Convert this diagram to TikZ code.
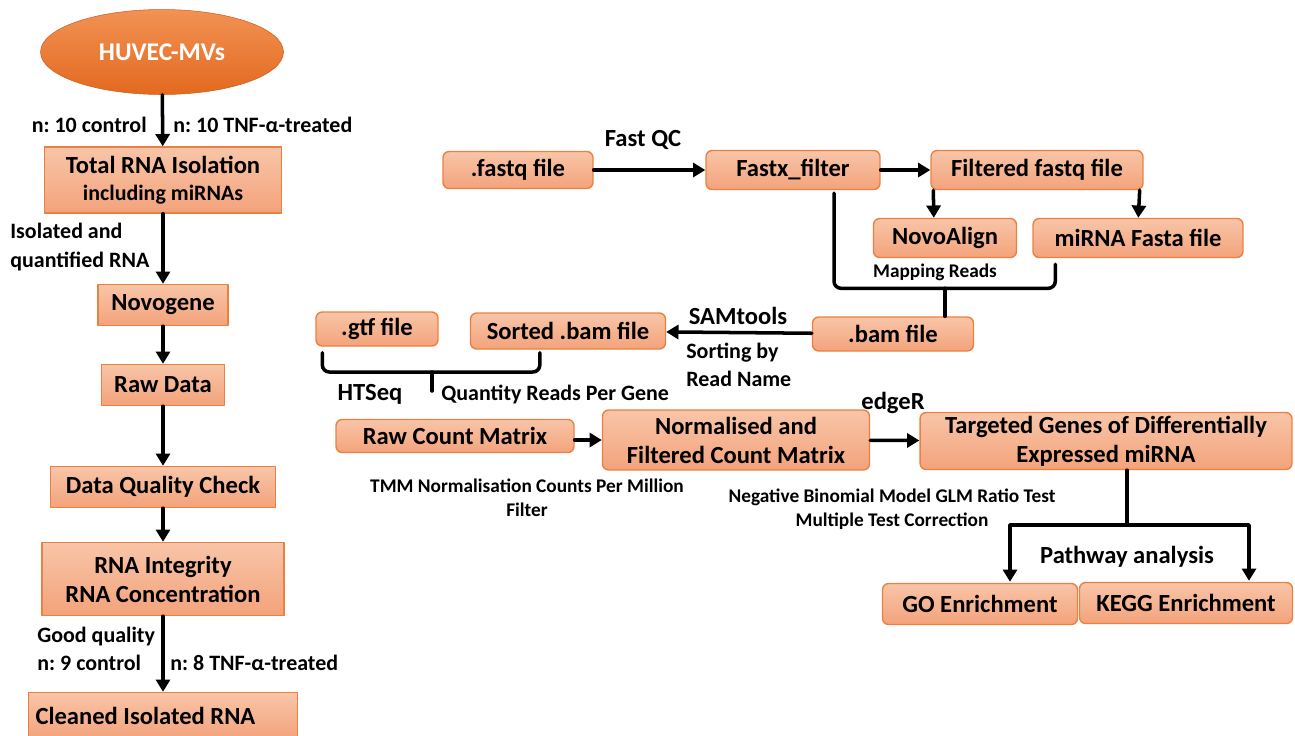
\documentclass[tikz,border=0pt]{standalone}
\usepackage{fontspec}
\setmainfont{Carlito}
\usepackage{tikz}
\usetikzlibrary{arrows.meta, positioning, calc, shapes.geometric}
\definecolor{boxtop}{HTML}{F8C5A8}
\definecolor{boxbot}{HTML}{F3A37B}
\definecolor{boxedge}{HTML}{EC8040}
\definecolor{huvtop}{HTML}{F29254}
\definecolor{huvbot}{HTML}{E3691F}
\frenchspacing

\begin{document}
\begin{tikzpicture}[
  x=0.02cm, y=-0.02cm,
  line cap=round, line join=round,
  box/.style={draw=boxedge, line width=0.8pt, top color=boxtop, bottom color=boxbot,
              font=\bfseries\fontsize{14}{16.5}\selectfont, align=center, inner sep=0pt},
  rbox/.style={box, rounded corners=3.5pt},
  lbl/.style={font=\bfseries\fontsize{12.5}{16}\selectfont, inner sep=0pt, align=left},
  tool/.style={font=\bfseries\fontsize{14}{16}\selectfont, inner sep=0pt},
  note/.style={font=\bfseries\fontsize{11}{13.6}\selectfont, inner sep=0pt, align=center},
  flow/.style={-{Triangle[length=7pt,width=8pt]}, line width=2pt},
  brace/.style={line width=2pt, rounded corners=4pt},
]
\path[use as bounding box] (0,0) rectangle (1295,735);

% ----- sample preparation column -----
\node[ellipse, top color=huvtop, bottom color=huvbot, draw=huvbot!90!black, line width=0.3pt,
      minimum width=4.86cm, minimum height=1.7cm, inner sep=0pt, text=white,
      font=\bfseries\fontsize{14.5}{16}\selectfont] (huvec) at (162,52) {HUVEC-MVs};
\node[box, minimum width=4.74cm, minimum height=1.32cm] (isolation) at (163,180)
  {Total RNA Isolation\\[-1pt]{\fontsize{12.5}{14}\selectfont including miRNAs}};
\node[box, minimum width=2.6cm, minimum height=0.82cm] (novogene) at (163,305) {Novogene};
\node[box, minimum width=2.46cm, minimum height=0.82cm] (rawdata) at (163,385) {Raw Data};
\node[box, minimum width=4.5cm, minimum height=0.82cm] (qualcheck) at (163,487) {Data Quality Check};
\node[box, minimum width=4.84cm, minimum height=1.46cm] (integrity) at (163,579)
  {RNA Integrity\\RNA Concentration};
\node[box, minimum width=5.38cm, minimum height=0.94cm, text width=5.1cm, align=flush left]
  (cleaned) at (163,716) {Cleaned Isolated RNA};

\draw[flow] (huvec) -- (isolation);
\draw[flow] (isolation) -- (novogene);
\draw[flow] (novogene) -- (rawdata);
\draw[flow] (rawdata) -- (qualcheck);
\draw[flow] (qualcheck) -- (integrity);
\draw[flow] (integrity) -- (cleaned);

\node[lbl, anchor=east] (ctrl10) at (147,125) {n: 10 control};
\node[lbl, anchor=west] (tnf10) at (173,125) {n: 10 TNF-α-treated};
\node[lbl, anchor=west] (quant) at (10,247) {Isolated and\\quantified RNA};
\node[lbl, anchor=west] (ctrl9) at (37,649) {Good quality\\n: 9 control};
\node[lbl, anchor=west] (tnf8) at (170,663) {n: 8 TNF-α-treated};

% ----- reads: filtering and mapping -----
\node[rbox, minimum width=3.0cm, minimum height=0.74cm] (fastq) at (518,170) {.fastq file};
\node[rbox, minimum width=3.48cm, minimum height=0.78cm] (fastx) at (793,170) {Fastx\_filter};
\node[rbox, minimum width=4.24cm, minimum height=0.78cm] (filtered) at (1037,170) {Filtered fastq file};
\node[rbox, minimum width=2.86cm, minimum height=0.78cm] (novoalign) at (945,238) {NovoAlign};
\node[rbox, minimum width=4.2cm, minimum height=0.78cm] (mirna) at (1138,238) {miRNA Fasta file};
\node[rbox, minimum width=3.22cm, minimum height=0.68cm] (bam) at (893,334) {.bam file};

\draw[flow] (fastq) -- (fastx);
\draw[flow] (fastx) -- (filtered);
\draw[flow] ($(filtered.south west)+(3,0)$) -- ($(novoalign.north west)+(61,0)$);
\draw[flow] ($(filtered.south east)+(-4,0)$) -- ($(mirna.north west)+(106,0)$);
\node[tool] (fastqc) at (643,140) {Fast QC};
\node[note] (mapping) at (935,272) {Mapping Reads};

\coordinate (mapjoin) at ($(bam.north)+(52,-28)$);
\draw[brace] ($(fastx.south)+(41,3)$) |- (mapjoin) -| ($(mirna.south west)+(23,6)$);
\draw[brace] (mapjoin) -- (mapjoin |- bam.north);

% ----- sorting and counting -----
\node[rbox, minimum width=3.9cm, minimum height=0.72cm] (sorted) at (568,331) {Sorted .bam file};
\node[rbox, minimum width=2.44cm, minimum height=0.68cm] (gtf) at (377,329) {.gtf file};
\draw[flow] (bam) -- (sorted);
\node[tool] (samtools) at (738,316) {SAMtools};
\node[lbl, anchor=west] (sortname) at (686,365) {Sorting by\\Read Name};

\coordinate (htjoin) at (432,372);
\coordinate (httip) at (432,391);
\draw[brace] ($(gtf.south west)+(7,6)$) |- (htjoin) -| ($(sorted.south west)+(70,3)$);
\draw[brace] (htjoin) -- (httip);
\node[tool] (htseq) at (370,394) {HTSeq};
\node[lbl, anchor=west] (perGene) at (441,394) {Quantity Reads Per Gene};

% ----- differential expression -----
\node[rbox, minimum width=4.76cm, minimum height=0.66cm] (rawcount) at (455,436) {Raw Count Matrix};
\node[rbox, minimum width=5.34cm, minimum height=1.2cm] (normcount) at (736,440)
  {Normalised and\\Filtered Count Matrix};
\node[rbox, minimum width=7.44cm, minimum height=1.14cm] (target) at (1106,441)
  {Targeted Genes of Differentially\\Expressed miRNA};
\draw[flow] (rawcount.east |- normcount.west) -- (normcount.west);
\draw[flow] (normcount) -- (target);
\node[note] (tmm) at (527,498) {TMM Normalisation Counts Per Million\\Filter};
\node[tool] (edger) at (893,403) {edgeR};
\node[note] (glm) at (892,509) {Negative Binomial Model GLM Ratio Test\\Multiple Test Correction};

% ----- pathway analysis -----
\node[rbox, minimum width=3.9cm, minimum height=0.82cm] (goenr) at (980,604) {GO Enrichment};
\node[rbox, minimum width=4.26cm, minimum height=0.82cm] (keggenr) at (1186,603) {KEGG Enrichment};
\coordinate (pathsplit) at (1127,525);
\draw[brace, rounded corners=0pt] ($(target.south)+(21,0)$) -- (pathsplit);
\draw[flow] (pathsplit) -| ($(goenr.north)+(30,-1)$);
\draw[flow] (pathsplit) -| ($(keggenr.north)+(63,-1)$);
\node[tool] (pathway) at (1127,557) {Pathway analysis};
\end{tikzpicture}
\end{document}
